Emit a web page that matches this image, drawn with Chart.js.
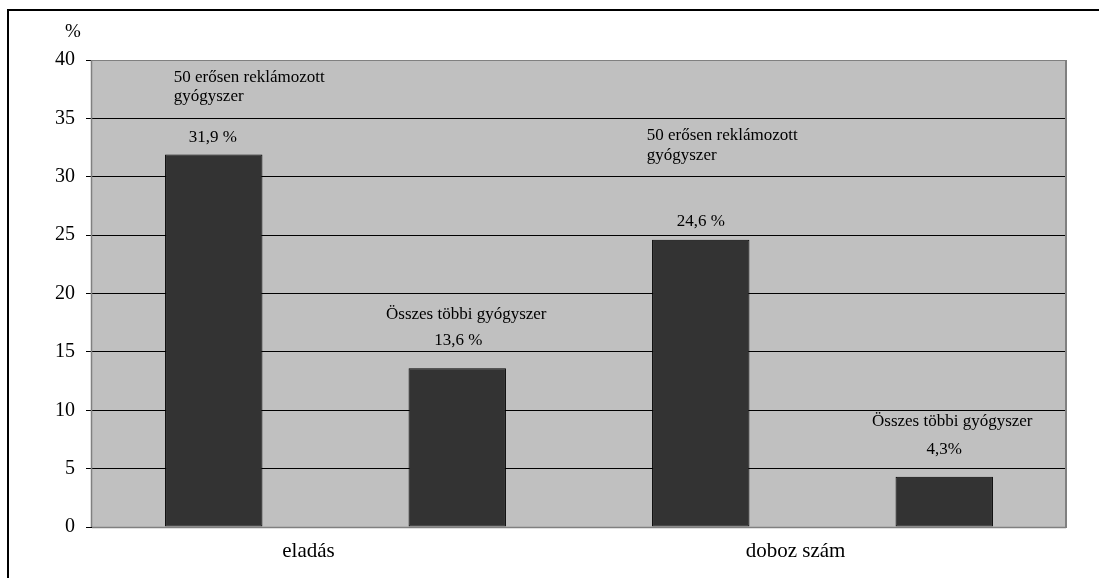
<!DOCTYPE html>
<html>
<head>
<meta charset="utf-8">
<script src="https://cdn.jsdelivr.net/npm/chart.js@4/dist/chart.umd.min.js"></script>
<style>
html,body{margin:0;padding:0;background:#fff;}
#wrap{position:absolute;left:0;top:0;width:1099px;height:578px;}
</style>
</head>
<body>
<div id="wrap"><canvas id="c" width="1099" height="578"></canvas></div>
<script>
const groups = ['eladás', 'doboz szám'];
const barCategories = ['eladás – 50 erősen reklámozott', 'eladás – összes többi', 'doboz szám – 50 erősen reklámozott', 'doboz szám – összes többi'];
const values = [31.9, 13.6, 24.6, 4.3];
const seriesNames = [
  ['50 erősen reklámozott', 'gyógyszer'],
  ['Összes többi gyógyszer'],
  ['50 erősen reklámozott', 'gyógyszer'],
  ['Összes többi gyógyszer']
];
const valueLabels = ['31,9 %', '13,6 %', '24,6 %', '4,3%'];
const yMin = 0, yMax = 40, yStep = 5;
const yUnit = '%';

const SERIF = '"Liberation Serif", "DejaVu Serif", serif';

// label placement relative to bar (center x, top y)
const labelLayout = [
  {name: {dx: -40, dy: -77.5, align: 'left', lh: 19}, value: {dx: -1, dy: -17.5}},
  {name: {dx: 9, dy: -54, align: 'center', lh: 19}, value: {dx: 1, dy: -28}},
  {name: {dx: -54, dy: -104.5, align: 'left', lh: 20}, value: {dx: 0, dy: -18}},
  {name: {dx: 8, dy: -55, align: 'center', lh: 19}, value: {dx: 0, dy: -27}}
];

const decor = {
  id: 'decor',
  beforeDraw(chart) {
    const {ctx, chartArea: a} = chart;
    ctx.save();
    ctx.fillStyle = '#000';
    ctx.fillRect(7, 9, 2, 569);
    ctx.fillRect(7, 9, 1092, 2);
    ctx.fillStyle = '#c0c0c0';
    ctx.fillRect(a.left, a.top, a.right - a.left, a.bottom - a.top);
    ctx.restore();
  },
  afterDatasetsDraw(chart) {
    const {ctx, chartArea: a} = chart;
    ctx.save();
    // frame
    ctx.strokeStyle = '#808080';
    ctx.lineWidth = 2;
    ctx.beginPath();
    ctx.moveTo(a.right, a.top);
    ctx.lineTo(a.right, a.bottom + 1);
    ctx.stroke();
    ctx.lineWidth = 1.5;
    ctx.beginPath();
    ctx.moveTo(a.left, a.bottom + 0.5);
    ctx.lineTo(a.right, a.bottom + 0.5);
    ctx.stroke();
    ctx.beginPath();
    ctx.moveTo(a.left - 0.5, a.top);
    ctx.lineTo(a.left - 0.5, a.bottom);
    ctx.stroke();
    // texts
    ctx.fillStyle = '#000';
    ctx.textBaseline = 'middle';
    const meta = chart.getDatasetMeta(0);
    meta.data.forEach((bar, i) => {
      const L = labelLayout[i];
      ctx.font = '17px ' + SERIF;
      ctx.textAlign = L.name.align;
      seriesNames[i].forEach((line, k) => {
        ctx.fillText(line, bar.x + L.name.dx, bar.y + L.name.dy + k * L.name.lh);
      });
      ctx.textAlign = 'center';
      ctx.fillText(valueLabels[i], bar.x + L.value.dx, bar.y + L.value.dy);
    });
    // unit label
    ctx.font = '19px ' + SERIF;
    ctx.textAlign = 'center';
    ctx.fillText(yUnit, a.left - 19, a.top - 28);
    ctx.restore();
  }
};

new Chart(document.getElementById('c'), {
  type: 'bar',
  data: {
    labels: barCategories,
    datasets: [{
      data: values,
      backgroundColor: '#333333',
      borderColor: '#000000',
      borderWidth: 1,
      borderSkipped: false,
      categoryPercentage: 1.0,
      barPercentage: 0.4
    }]
  },
  options: {
    responsive: false,
    animation: false,
    devicePixelRatio: 1,
    layout: {padding: {left: 0, top: 60, right: 33, bottom: 0}},
    plugins: {legend: {display: false}, tooltip: {enabled: false}},
    scales: {
      x: {display: false},
      xg: {
        type: 'category',
        labels: groups,
        position: 'bottom',
        offset: true,
        grid: {display: false, drawTicks: false},
        border: {display: false},
        afterFit(scale) { scale.height = 51; },
        ticks: {
          autoSkip: false,
          maxRotation: 0,
          color: '#000',
          padding: 12,
          labelOffset: -27,
          font: {family: SERIF, size: 21}
        }
      },
      y: {
        min: yMin,
        max: yMax,
        afterFit(scale) { scale.width = 92; },
        border: {display: false},
        grid: {
          color: (c) => c.tick && c.tick.value === yMax ? '#808080' : '#000',
          lineWidth: 1,
          tickLength: 6,
          tickColor: '#000'
        },
        ticks: {
          stepSize: yStep,
          color: '#000',
          padding: 11,
          font: {family: SERIF, size: 20}
        }
      }
    }
  },
  plugins: [decor]
});
</script>
</body>
</html>
